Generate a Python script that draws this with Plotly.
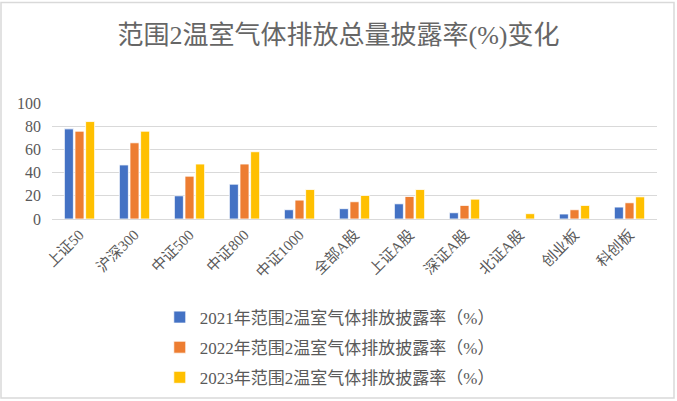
import plotly.graph_objects as go

categories = ["上证50", "沪深300", "中证500", "中证800", "中证1000", "全部A股",
              "上证A股", "深证A股", "北证A股", "创业板", "科创板"]
rate_2021 = [77.7, 46.6, 20.0, 30.0, 8.0, 8.9, 13.1, 5.4, 0, 4.3, 10.3]
rate_2022 = [75.7, 65.7, 36.9, 47.4, 16.3, 14.9, 19.4, 11.7, 0, 8.0, 14.0]
rate_2023 = [84.0, 75.7, 47.4, 58.0, 25.4, 20.3, 25.4, 17.1, 4.6, 11.7, 19.1]
series_names = ["2021年范围2温室气体排放披露率（%）",
                "2022年范围2温室气体排放披露率（%）",
                "2023年范围2温室气体排放披露率（%）"]
colors = ["#4472C4", "#ED7D31", "#FFC000"]

font_fam = "Liberation Serif, Noto Sans CJK SC, serif"

fig = go.Figure()
for i, vals in enumerate([rate_2021, rate_2022, rate_2023]):
	fig.add_trace(go.Bar(x=categories, y=vals, name=series_names[i],
		marker=dict(color=colors[i], line=dict(color="white", width=0.8)),
		legendgroup="g" + str(i)))

fig.update_layout(
	width=677, height=401,
	margin=dict(l=52, r=20, t=103, b=182, autoexpand=False),
	paper_bgcolor="white", plot_bgcolor="white",
	barmode="group", bargap=0.42, bargroupgap=0.15,
	font=dict(family=font_fam, color="#595959"),
	title=dict(text="范围2温室气体排放总量披露率(%)变化", x=0.5, xanchor="center",
		y=0.913, yanchor="middle", font=dict(size=26, color="#666666")),
	legend=dict(orientation="v", xref="container", yref="container",
		x=0.236, y=0.253, xanchor="left", yanchor="top",
		font=dict(size=17, color="#595959"), tracegroupgap=5, bgcolor="rgba(0,0,0,0)"),
	shapes=[dict(type="rect", xref="paper", yref="paper",
		x0=-51/605, x1=(605+17)/605, y0=-180/116.6, y1=(116.6+101)/116.6,
		line=dict(color="#D9D9D9", width=1.5))],
)
fig.update_xaxes(tickangle=-45, tickfont=dict(size=15, color="#595959"),
	showline=True, linecolor="#D9D9D9", linewidth=1.3, ticks="", automargin=False)
fig.update_yaxes(range=[0, 100], dtick=20, tickfont=dict(size=16, color="#595959"),
	showgrid=True, gridcolor="#D9D9D9", gridwidth=1.3, zeroline=False, ticks="",
	ticklabelstandoff=10, automargin=False)

# page body has an 8px default margin; remove it so the chart sits at 0,0
fig.write_html("out.html", config={"displayModeBar": False},
	post_script="document.body.style.margin='0';document.body.style.overflow='hidden';")
